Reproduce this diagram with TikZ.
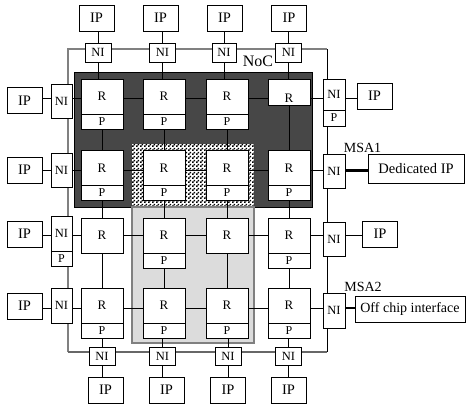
\documentclass[tikz,border=0pt]{standalone}
\usepackage{fontspec}
\setmainfont{Liberation Serif}
\usetikzlibrary{patterns}
\pgfdeclarelayer{bg}
\pgfdeclarelayer{wires}
\pgfsetlayers{bg,wires,main}
\definecolor{framegray}{HTML}{808080}
\definecolor{darkreg}{HTML}{474747}
\definecolor{lightreg}{HTML}{DCDCDC}
\pgfdeclarepatternformonly{finecheck}{\pgfqpoint{0pt}{0pt}}{\pgfqpoint{4pt}{4pt}}{\pgfqpoint{4pt}{4pt}}{%
  \pgfpathrectangle{\pgfqpoint{0pt}{0pt}}{\pgfqpoint{2pt}{2pt}}%
  \pgfpathrectangle{\pgfqpoint{2pt}{2pt}}{\pgfqpoint{2pt}{2pt}}%
  \pgfusepath{fill}}
\begin{document}
\begin{tikzpicture}[x=1pt,y=-1pt,
 bx/.style={draw=black, line width=0.7pt, fill=white, inner sep=0pt, outer sep=0pt},
 ipbox/.style={bx, minimum width=35pt, minimum height=26pt, font=\fontsize{14.5}{15}\selectfont},
 nibox/.style={bx, minimum width=26pt, minimum height=19pt, font=\fontsize{12.5}{13}\selectfont},
 sideni/.style={bx, minimum width=21pt, minimum height=34pt, font=\fontsize{12.5}{13}\selectfont},
 rbox/.style={bx, minimum width=42pt, minimum height=35pt, font=\fontsize{13}{13}\selectfont},
 pbox/.style={bx, minimum width=42pt, minimum height=15pt, font=\fontsize{12}{12}\selectfont},
 wire/.style={line width=0.8pt, black},
 thickwire/.style={line width=2.4pt, black},
 lbl/.style={inner sep=0pt, font=\fontsize{14}{14}\selectfont}
]
\useasboundingbox (0,0) rectangle (466,407);

% row coordinates for horizontal wires
\coordinate (row1) at (0,98);
\coordinate (row2) at (0,170.5);
\coordinate (row3) at (0,235);
\coordinate (row4) at (0,308);

% ---------- routers ----------
% row 1
\node[rbox] (r11) at (102,96.5) {R};
\node[rbox] (r12) at (164,96.5) {R};
\node[rbox] (r13) at (227,96.5) {R};
\node[rbox, minimum height=26pt] (r14) at (289,92) {};
\node[inner sep=0pt, font=\fontsize{13}{13}\selectfont] (r14t) at ([yshift=-6pt]r14.center) {R};
\node[pbox, anchor=north] (p11) at (r11.south) {P};
\node[pbox, anchor=north] (p12) at (r12.south) {P};
\node[pbox, anchor=north] (p13) at (r13.south) {P};
% row 2
\node[rbox] (r21) at (102,168) {R};
\node[rbox] (r22) at (164,168) {R};
\node[rbox] (r23) at (227,168) {R};
\node[rbox] (r24) at (289,168) {R};
\node[pbox, anchor=north] (p21) at (r21.south) {P};
\node[pbox, anchor=north] (p22) at (r22.south) {P};
\node[pbox, anchor=north] (p23) at (r23.south) {P};
\node[pbox, anchor=north] (p24) at (r24.south) {P};
% row 3
\node[rbox] (r31) at (102,235.5) {R};
\node[rbox] (r32) at (164,235.5) {R};
\node[rbox] (r33) at (227,235.5) {R};
\node[rbox] (r34) at (289,235.5) {R};
\node[pbox, anchor=north] (p32) at (r32.south) {P};
\node[pbox, anchor=north] (p34) at (r34.south) {P};
% row 4
\node[rbox] (r41) at (102,305.5) {R};
\node[rbox] (r42) at (164,305.5) {R};
\node[rbox] (r43) at (227,305.5) {R};
\node[rbox] (r44) at (289,305.5) {R};
\node[pbox, anchor=north] (p41) at (r41.south) {P};
\node[pbox, anchor=north] (p42) at (r42.south) {P};
\node[pbox, anchor=north] (p43) at (r43.south) {P};
\node[pbox, anchor=north] (p44) at (r44.south) {P};

% ---------- top NIs and IPs ----------
\node[nibox] (niT1) at (98,52.5) {NI};
\node[nibox] (niT2) at (162.5,52.5) {NI};
\node[nibox, minimum width=24pt] (niT3) at (224,52.5) {NI};
\node[nibox] (niT4) at (288.5,52.5) {NI};
\node[ipbox] (ipT1) at (96.5,18) {IP};
\node[ipbox] (ipT2) at (160.5,18) {IP};
\node[ipbox] (ipT3) at (224.5,18) {IP};
\node[ipbox] (ipT4) at (289,18) {IP};

% ---------- bottom NIs and IPs ----------
\node[nibox, minimum height=18pt] (niB1) at (102,356) {NI};
\node[nibox, minimum height=18pt] (niB2) at (162.5,356) {NI};
\node[nibox, minimum height=18pt] (niB3) at (228,356) {NI};
\node[nibox, minimum height=18pt] (niB4) at (288.5,356) {NI};
\node[ipbox] (ipB1) at (105.5,390) {IP};
\node[ipbox] (ipB2) at (166.5,390) {IP};
\node[ipbox] (ipB3) at (228,390) {IP};
\node[ipbox] (ipB4) at (288.5,390) {IP};

% ---------- left NIs and IPs ----------
\node[sideni] (niL1) at (61.5,101) {NI};
\node[sideni] (niL2) at (61.5,170) {NI};
\node[sideni, minimum height=35pt] (niL3) at (61.5,233.5) {NI};
\node[bx, minimum width=21pt, minimum height=15pt, anchor=north, font=\fontsize{12}{12}\selectfont] (pL3) at (niL3.south) {P};
\node[sideni, minimum height=35pt] (niL4) at (61.5,305.5) {NI};
\node[ipbox] (ipL1) at (24.5,100.5) {IP};
\node[ipbox] (ipL2) at (24.5,170) {IP};
\node[ipbox] (ipL3) at (24.5,234) {IP};
\node[ipbox] (ipL4) at (24.5,306) {IP};

% ---------- right NIs and IPs ----------
\node[sideni, minimum width=22pt, minimum height=31pt] (niR1) at (334,94.5) {NI};
\node[bx, minimum width=22pt, minimum height=16pt, anchor=north, font=\fontsize{12}{12}\selectfont] (pR1) at (niR1.south) {P};
\node[sideni, minimum width=22pt] (niR2) at (334,171) {NI};
\node[sideni, minimum width=22pt] (niR3) at (334,239) {NI};
\node[sideni, minimum width=22pt, minimum height=35pt] (niR4) at (334,310.5) {NI};
\node[ipbox] (ipR1) at (374.5,96) {IP};
\node[ipbox] (ipR3) at (380,234) {IP};
\node[bx, minimum width=96pt, minimum height=29pt, font=\fontsize{14.5}{15}\selectfont] (ded) at (416,168.5) {Dedicated IP};
\node[bx, minimum width=110pt, minimum height=26pt, font=\fontsize{14}{14}\selectfont] (off) at (410,309) {Off chip interface};

% ---------- labels ----------
\node[lbl, font=\fontsize{16}{16}\selectfont] (noc) at (258,61) {NoC};
\node[lbl] (msa1) at (362.5,148) {MSA1};
\node[lbl] (msa2) at (363,287) {MSA2};

% ---------- regions ----------
\begin{pgfonlayer}{bg}
\filldraw[fill=darkreg, draw=black, line width=0.6pt] (74,72) rectangle (312,207);
\fill[white] (132,144) rectangle (254,207);
\fill[pattern=finecheck, pattern color=black] (132,144) rectangle (254,207);
\filldraw[fill=lightreg, draw=framegray, line width=1.2pt] (132,207) rectangle (254,343);
\end{pgfonlayer}

% ---------- frame and wires ----------
\begin{pgfonlayer}{wires}
\coordinate (ftl) at (68,49);
\coordinate (ftr) at (327,49);
\coordinate (fbr) at (327,352);
\coordinate (fbl) at (68,352);
\draw[framegray, line width=1.1pt] (fbl) -- (ftl) -- (ftr);
\draw[black, line width=0.9pt] (ftr) -- (fbr);
\draw[framegray!80!black, line width=1.1pt] (fbr) -- (fbl);

% top
\foreach \i in {1,2,3,4}{
  \draw[wire] (ipT\i.south -| niT\i) -- (niT\i.north);
}
\draw[wire] (niT1.south) -- (niT1.south |- r11.north);
\draw[wire] (niT2.south) -- (niT2.south |- r12.north);
\draw[wire] (niT3.south) -- (niT3.south |- r13.north);
\draw[wire] (niT4.south) -- (niT4.south |- r14.north);
% bottom
\draw[wire] (p41.south -| niB1) -- (niB1.north);
\draw[wire] (p42.south -| niB2) -- (niB2.north);
\draw[wire] (p43.south -| niB3) -- (niB3.north);
\draw[wire] (p44.south -| niB4) -- (niB4.north);
\foreach \i in {1,2,3,4}{
  \draw[wire] (niB\i.south) -- (niB\i.south |- ipB\i.north);
}
% vertical between rows
\draw[wire] (p11.south) -- (r21.north);
\draw[wire] (p12.south) -- (r22.north);
\draw[wire] (p13.south) -- (r23.north);
\draw[wire] (r14.south) -- (r24.north);
\draw[wire] (p21.south) -- (r31.north);
\draw[wire] (p22.south) -- (r32.north);
\draw[wire] (p23.south) -- (r33.north);
\draw[wire] (p24.south) -- (r34.north);
\draw[wire] (r31.south) -- (r41.north);
\draw[wire] (p32.south) -- (r42.north);
\draw[wire] (r33.south) -- (r43.north);
\draw[wire] (p34.south) -- (r44.north);
% horizontal between routers
\foreach \r in {1,2,3,4}{
  \draw[wire] (r\r1.east |- row\r) -- (r\r2.west |- row\r);
  \draw[wire] (r\r2.east |- row\r) -- (r\r3.west |- row\r);
  \draw[wire] (r\r3.east |- row\r) -- (r\r4.west |- row\r);
  \draw[wire] (ipL\r.east |- row\r) -- (niL\r.west |- row\r);
  \draw[wire] (niL\r.east |- row\r) -- (r\r1.west |- row\r);
  \draw[wire] (r\r4.east |- row\r) -- (niR\r.west |- row\r);
}
\draw[wire] (niR1.east |- row1) -- (ipR1.west |- row1);
\draw[wire] (niR3.east |- row3) -- (ipR3.west |- row3);
\draw[thickwire] (niR2.east |- row2) -- (ded.west |- row2);
\draw[thickwire] (niR4.east |- row4) -- (off.west |- row4);
\end{pgfonlayer}
\end{tikzpicture}
\end{document}
